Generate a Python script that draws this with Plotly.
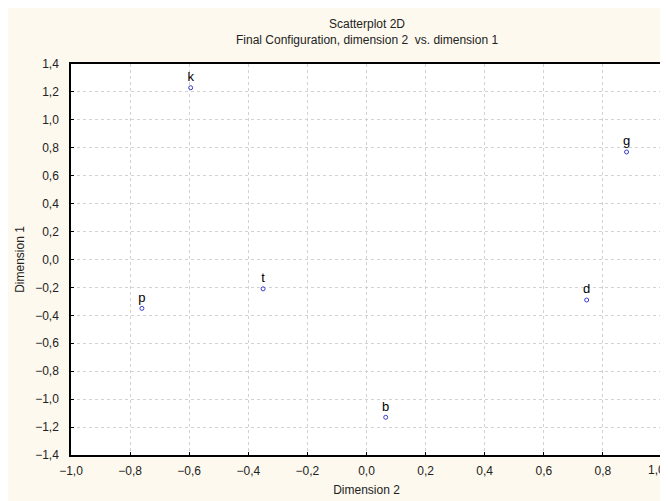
import plotly.graph_objects as go

labels = ["k", "g", "t", "p", "d", "b"]
dim2 = [-0.595, 0.88, -0.35, -0.76, 0.745, 0.065]
dim1 = [1.23, 0.77, -0.21, -0.35, -0.29, -1.13]

tickvals = [round(-1.4 + 0.2 * i, 1) for i in range(15)]
xtickvals = [round(-1.0 + 0.2 * i, 1) for i in range(11)]

fig = go.Figure()
fig.add_trace(go.Scatter(
    x=dim2, y=dim1, mode="markers+text", text=labels,
    textposition="top center",
    textfont=dict(family="Liberation Sans, Arial", size=13, color="black"),
    marker=dict(symbol="circle-open", size=4, color="#3a3acc", line=dict(width=1)),
    showlegend=False, cliponaxis=False,
))

axis_common = dict(
    showline=True, linecolor="black", linewidth=1.5, mirror=True,
    showgrid=True, gridcolor="#d2d2d2", griddash="dot", gridwidth=1,
    zeroline=False, ticks="inside", ticklen=3, tickcolor="black",
    tickfont=dict(family="Liberation Sans, Arial", size=12, color="#222"),
    tickformat=".1f", automargin=False,
)

# page body has an 8px margin, so the figure is sized to fit the 668x501 window
fig.update_layout(
    width=660, height=493,
    paper_bgcolor="#fdf9ee", plot_bgcolor="white",
    separators=", ",
    margin=dict(l=63, r=6, t=56, b=46),
    font=dict(family="Liberation Sans, Arial", size=12, color="#222"),
    xaxis=dict(range=[-1.0, 1.0], tickvals=xtickvals, ticklabelstandoff=4,
               title=dict(text="Dimension 2", font=dict(size=12), standoff=8),
               **axis_common),
    yaxis=dict(range=[-1.4, 1.4], tickvals=tickvals, ticklabelstandoff=8,
               title=dict(text="Dimension 1", font=dict(size=12), standoff=8),
               **axis_common),
    annotations=[
        dict(text="Scatterplot 2D", x=0.5, y=1, xref="paper", yref="paper",
             yanchor="bottom", yshift=31,
             showarrow=False, font=dict(size=12, color="#222")),
        dict(text="Final Configuration, dimension 2  vs. dimension 1", x=0.5, y=1,
             xref="paper", yref="paper", yanchor="bottom", yshift=15,
             showarrow=False, font=dict(size=12, color="#222")),
        dict(text="1,0", x=xtickvals[-1], y=0, xref="x", yref="paper",
             xanchor="right", yanchor="top", yshift=-6, xshift=5, showarrow=False,
             font=dict(size=12, color="#222")),
    ],
)

fig.write_html("out.html")
